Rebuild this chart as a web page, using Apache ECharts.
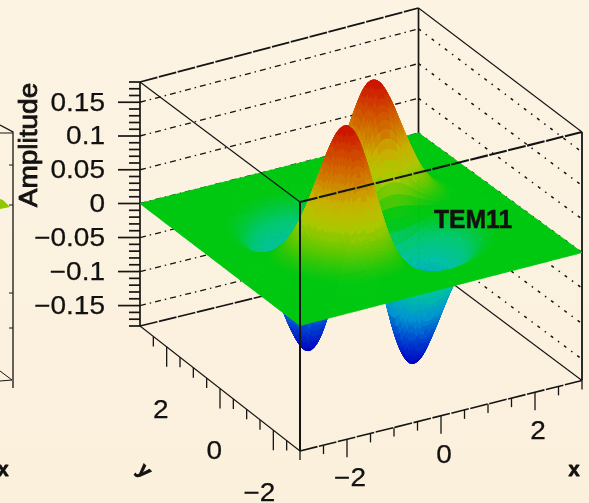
<!DOCTYPE html>
<html>
<head>
<meta charset="utf-8">
<script src="https://cdn.jsdelivr.net/npm/echarts@6/dist/echarts.min.js"></script>
<style>
html,body{margin:0;padding:0;background:#fbf1de;}
#c{width:589px;height:503px;filter:blur(0.55px);}
</style>
</head>
<body>
<div id="c"></div>
<script>
// Amplitude, in thousandths; rows run y = -3 .. 3, columns x = -3 .. 3, step 0.2
const xValues = [-3,-2.8,-2.6,-2.4,-2.2,-2,-1.8,-1.6,-1.4,-1.2,-1,-0.8,-0.6,-0.4,-0.2,0,0.2,0.4,0.6,0.8,1,1.2,1.4,1.6,1.8,2,2.2,2.4,2.6,2.8,3];
const yValues = xValues.slice();
const amplitudeMilli = [
[0,0,0,0,0,0,0,0,0,0,0,0,0,0,0,0,0,0,0,0,0,0,0,0,0,0,0,0,0,0,0],
[0,0,0,0,0,0,0,0,0,0,0,0,0,0,0,0,0,0,0,0,0,0,0,0,0,0,0,0,0,0,0],
[0,0,0,0,0,0,0,0,1,1,1,1,1,1,1,0,-1,-1,-1,-1,-1,-1,-1,0,0,0,0,0,0,0,0],
[0,0,0,0,0,0,0,1,1,2,3,3,3,3,1,0,-1,-3,-3,-3,-3,-2,-1,-1,0,0,0,0,0,0,0],
[0,0,0,0,0,1,1,2,3,5,6,7,7,6,3,0,-3,-6,-7,-7,-6,-5,-3,-2,-1,-1,0,0,0,0,0],
[0,0,0,0,1,1,3,5,7,10,13,15,15,12,7,0,-7,-12,-15,-15,-13,-10,-7,-5,-3,-1,-1,0,0,0,0],
[0,0,0,0,1,3,5,9,14,20,26,30,30,24,14,0,-14,-24,-30,-30,-26,-20,-14,-9,-5,-3,-1,0,0,0,0],
[0,0,0,1,2,5,9,15,24,35,46,52,52,42,24,0,-24,-42,-52,-52,-46,-35,-24,-15,-9,-5,-2,-1,0,0,0],
[0,0,1,1,3,7,14,24,39,56,73,83,83,67,38,0,-38,-67,-83,-83,-73,-56,-39,-24,-14,-7,-3,-1,-1,0,0],
[0,0,1,2,5,10,20,35,56,81,105,120,119,97,55,0,-55,-97,-119,-120,-105,-81,-56,-35,-20,-10,-5,-2,-1,0,0],
[0,0,1,3,6,13,26,46,73,105,135,155,154,125,71,0,-71,-125,-154,-155,-135,-105,-73,-46,-26,-13,-6,-3,-1,0,0],
[0,0,1,3,7,15,30,52,83,120,155,178,177,144,81,0,-81,-144,-177,-178,-155,-120,-83,-52,-30,-15,-7,-3,-1,0,0],
[0,0,1,3,7,15,30,52,83,119,154,177,175,143,80,0,-80,-143,-175,-177,-154,-119,-83,-52,-30,-15,-7,-3,-1,0,0],
[0,0,1,3,6,12,24,42,67,97,125,144,143,116,66,0,-66,-116,-143,-144,-125,-97,-67,-42,-24,-12,-6,-3,-1,0,0],
[0,0,1,1,3,7,14,24,38,55,71,81,80,66,37,0,-37,-66,-80,-81,-71,-55,-38,-24,-14,-7,-3,-1,-1,0,0],
[0,0,0,0,0,0,0,0,0,0,0,0,0,0,0,0,0,0,0,0,0,0,0,0,0,0,0,0,0,0,0],
[0,0,-1,-1,-3,-7,-14,-24,-38,-55,-71,-81,-80,-66,-37,0,37,66,80,81,71,55,38,24,14,7,3,1,1,0,0],
[0,0,-1,-3,-6,-12,-24,-42,-67,-97,-125,-144,-143,-116,-66,0,66,116,143,144,125,97,67,42,24,12,6,3,1,0,0],
[0,0,-1,-3,-7,-15,-30,-52,-83,-119,-154,-177,-175,-143,-80,0,80,143,175,177,154,119,83,52,30,15,7,3,1,0,0],
[0,0,-1,-3,-7,-15,-30,-52,-83,-120,-155,-178,-177,-144,-81,0,81,144,177,178,155,120,83,52,30,15,7,3,1,0,0],
[0,0,-1,-3,-6,-13,-26,-46,-73,-105,-135,-155,-154,-125,-71,0,71,125,154,155,135,105,73,46,26,13,6,3,1,0,0],
[0,0,-1,-2,-5,-10,-20,-35,-56,-81,-105,-120,-119,-97,-55,0,55,97,119,120,105,81,56,35,20,10,5,2,1,0,0],
[0,0,-1,-1,-3,-7,-14,-24,-39,-56,-73,-83,-83,-67,-38,0,38,67,83,83,73,56,39,24,14,7,3,1,1,0,0],
[0,0,0,-1,-2,-5,-9,-15,-24,-35,-46,-52,-52,-42,-24,0,24,42,52,52,46,35,24,15,9,5,2,1,0,0,0],
[0,0,0,0,-1,-3,-5,-9,-14,-20,-26,-30,-30,-24,-14,0,14,24,30,30,26,20,14,9,5,3,1,0,0,0,0],
[0,0,0,0,-1,-1,-3,-5,-7,-10,-13,-15,-15,-12,-7,0,7,12,15,15,13,10,7,5,3,1,1,0,0,0,0],
[0,0,0,0,0,-1,-1,-2,-3,-5,-6,-7,-7,-6,-3,0,3,6,7,7,6,5,3,2,1,1,0,0,0,0,0],
[0,0,0,0,0,0,0,-1,-1,-2,-3,-3,-3,-3,-1,0,1,3,3,3,3,2,1,1,0,0,0,0,0,0,0],
[0,0,0,0,0,0,0,0,-1,-1,-1,-1,-1,-1,-1,0,1,1,1,1,1,1,1,0,0,0,0,0,0,0,0],
[0,0,0,0,0,0,0,0,0,0,0,0,0,0,0,0,0,0,0,0,0,0,0,0,0,0,0,0,0,0,0],
[0,0,0,0,0,0,0,0,0,0,0,0,0,0,0,0,0,0,0,0,0,0,0,0,0,0,0,0,0,0,0]
];
const zTickValues = [-0.15,-0.1,-0.05,0,0.05,0.1,0.15];
const zTickLabels = ['\u22120.15','\u22120.1','\u22120.05','0','0.05','0.1','0.15'];
const xTickValues = [-2,0,2];
const xTickLabels = ['\u22122','0','2'];
const yTickValues = [-2,0,2];
const yTickLabels = ['\u22122','0','2'];
const axisTitleZ = 'Amplitude';
const axisTitleX = 'x';
const axisTitleY = 'y';
const plotTitle = 'TEM11';

// Box of the 3D scale: screen position of each vertical edge at z = 0, and its reach up/down
const X_RANGE = 3, Y_RANGE = 3, Z_RANGE = 0.18;
const corners = {
  F:{u:300,v:325.5,up:123.5,down:125.5},
  R:{u:582,v:252.5,up:120.5,down:128},
  L:{u:140,v:203.5,up:121.5,down:122.5},
  B:{u:418.5,v:133,up:125,down:125}
};
function project(x,y,z){
  const s=(x+X_RANGE)/(2*X_RANGE), t=(y+Y_RANGE)/(2*Y_RANGE);
  const w={F:(1-s)*(1-t),R:s*(1-t),L:(1-s)*t,B:s*t};
  let u=0,v=0;
  for(const k in w){
    const c=corners[k];
    const reach=z>=0?c.up:c.down;
    u+=w[k]*c.u;
    v+=w[k]*(c.v-z/Z_RANGE*reach);
  }
  return [u,v];
}

// Palette: smooth near the plane, stepped towards the extremes
const colorStops=[[-184,[0,0,192]],[-140,[0,64,208]],[-100,[0,150,208]],[-62,[0,192,165]],[-30,[0,200,110]],[-5,[0,200,16]],[5,[0,200,16]],[32,[96,200,0]],[62,[176,200,0]],[90,[200,176,0]],[120,[208,120,0]],[150,[208,72,0]],[184,[204,16,0]]];
function colorOf(m){
  const step=10, q=Math.abs(m)>45?Math.round(m/step)*step:m;
  for(let i=1;i<colorStops.length;i++){
    if(q<=colorStops[i][0]||i===colorStops.length-1){
      const a=colorStops[i-1],b=colorStops[i];
      const f=Math.max(0,Math.min(1,(q-a[0])/(b[0]-a[0])));
      return 'rgb('+a[1].map((c,k)=>Math.round(c+(b[1][k]-c)*f)).join(',')+')';
    }
  }
}

// Smooth shading of the read grid: the surface is painted finer than its data step
const SUB=5, N=xValues.length;
function cr(p0,p1,p2,p3,f){return 0.5*(2*p1+(p2-p0)*f+(2*p0-5*p1+4*p2-p3)*f*f+(3*p1-p0-3*p2+p3)*f*f*f);}
function sample(ix,iy,fx,fy){
  const col=[];
  for(let r=-1;r<=2;r++){
    const row=amplitudeMilli[Math.max(0,Math.min(N-1,iy+r))];
    const g=c=>row[Math.max(0,Math.min(N-1,ix+c))];
    col.push(cr(g(-1),g(0),g(1),g(2),fx));
  }
  return cr(col[0],col[1],col[2],col[3],fy);
}
const cells=[];
for(let iy=N-2;iy>=0;iy--)for(let ix=N-2;ix>=0;ix--)cells.push([ix,iy]);

function renderCell(params,api){
  const ix=api.value(0), iy=api.value(1), children=[];
  const step=(xValues[1]-xValues[0])/SUB;
  for(let b=SUB-1;b>=0;b--)for(let a=SUB-1;a>=0;a--){
    const m=[[a,b],[a+1,b],[a+1,b+1],[a,b+1]].map(p=>sample(ix,iy,p[0]/SUB,p[1]/SUB));
    const xs=xValues[ix]+a*step, ys=yValues[iy]+b*step;
    const pts=[[xs,ys,m[0]],[xs+step,ys,m[1]],[xs+step,ys+step,m[2]],[xs,ys+step,m[3]]]
      .map(p=>api.coord(project(p[0],p[1],p[2]/1000)));
    const fill=colorOf((m[0]+m[1]+m[2]+m[3])/4);
    children.push({type:'polygon',shape:{points:pts},style:{fill:fill,stroke:fill,lineWidth:0.8}});
  }
  return {type:'group',children:children};
}

// Frame
const INK='#141414';
const GRID_DASH=[6,4,1.5,4], EDGE_DASH=[18,1.5];
const wallZ=[-0.15,-0.1,-0.05,0,0.05,0.1,0.15];
const backSegs=[], frontSegs=[];
function seg(list,a,b,w,dash){list.push({a:a,b:b,w:w,dash:dash});}
const P=(x,y,z)=>project(x,y,z);
// back walls
wallZ.forEach(z=>{
  seg(backSegs,P(-3,3,z),P(3,3,z),1.3,GRID_DASH);
  seg(backSegs,P(3,3,z),P(3,-3,z),1.5,[3,6,1.5,6]);
});
seg(backSegs,P(-3,3,Z_RANGE),P(3,3,Z_RANGE),1.8,EDGE_DASH);
seg(backSegs,P(3,3,Z_RANGE),P(3,-3,Z_RANGE),1.1,null);
seg(backSegs,P(-3,3,-Z_RANGE),P(3,3,-Z_RANGE),1.6,EDGE_DASH);
seg(backSegs,P(3,3,-Z_RANGE),P(3,-3,-Z_RANGE),1.1,null);
seg(backSegs,P(3,3,-Z_RANGE),P(3,3,Z_RANGE),1.7,null);
seg(backSegs,P(-3,3,-Z_RANGE),P(-3,3,Z_RANGE),1.7,null);
seg(backSegs,P(3,-3,-Z_RANGE),P(3,-3,Z_RANGE),1.8,null);
// bottom front edges and axis ticks
seg(backSegs,P(-3,3,-Z_RANGE),P(-3,-3,-Z_RANGE),1.1,null);
seg(backSegs,P(-3,-3,-Z_RANGE),P(3,-3,-Z_RANGE),1.6,EDGE_DASH);
for(let i=-18;i<=18;i++){
  const z=i/100, p=P(-3,3,z), major=i%5===0;
  seg(backSegs,[p[0]-(major?22:11),p[1]],p,1.7,null);
}
for(let i=-6;i<=6;i++){
  const p=P(i/2,-3,-Z_RANGE), major=i===-4||i===0||i===4;
  seg(backSegs,p,[p[0],p[1]+(major?18:9)],1.3,null);
}
for(let i=-5;i<=5;i++){
  const p=P(-3,i/2,-Z_RANGE), major=i===-4||i===0||i===4;
  seg(backSegs,p,[p[0],p[1]+(major?20:10)],1.3,null);
}
// front top edges, over the surface
seg(frontSegs,P(-3,-3,Z_RANGE),P(3,-3,Z_RANGE),2.1,EDGE_DASH);
seg(frontSegs,P(-3,-3,Z_RANGE),P(-3,3,Z_RANGE),1.2,null);
seg(frontSegs,P(-3,-3,-Z_RANGE),P(-3,-3,Z_RANGE),2,null);

function renderSeg(list){
  return function(params,api){
    const s=list[api.value(0)];
    const a=api.coord(s.a), b=api.coord(s.b);
    return {type:'line',shape:{x1:a[0],y1:a[1],x2:b[0],y2:b[1]},
      style:{stroke:INK,lineWidth:s.w,lineDash:s.dash||null,fill:null}};
  };
}

// Text
const FONT='"Liberation Sans",Arial,sans-serif';
const texts=[];
function txt(text,pos,size,opt){texts.push(Object.assign({text:text,pos:pos,size:size,align:'center',scaleX:1,rot:0,weight:'normal',bold:0.25},opt||{}));}
zTickValues.forEach((z,i)=>{const p=P(-3,3,z);txt(zTickLabels[i],[105,p[1]+1.5],25,{align:'right',scaleX:1.12});});
xTickValues.forEach((x,i)=>{const p=P(x,-3,-Z_RANGE);txt(xTickLabels[i],[p[0]+3,p[1]+40],25,{scaleX:1.12});});
yTickValues.forEach((y,i)=>{const p=P(-3,y,-Z_RANGE);txt(yTickLabels[i],[p[0]+2,p[1]+64],25,{align:'right',scaleX:1.12});});
txt(axisTitleZ,[30,145],25,{rot:Math.PI/2,scaleX:1.12,bold:0.8});
txt(axisTitleX,[574,470],20,{weight:'bold',bold:0.8});
txt(axisTitleY,[144,471],20,{weight:'bold',rot:-Math.PI/4,bold:0.8});
txt(plotTitle,[473,221],26,{weight:'bold',scaleX:0.95,bold:0.5});
txt(axisTitleX,[3,470],20,{weight:'bold',bold:0.8});

function renderText(params,api){
  const t=texts[api.value(0)], p=api.coord(t.pos);
  return {type:'text',x:p[0],y:p[1],rotation:t.rot,scaleX:t.scaleX,
    style:{text:t.text,x:0,y:0,textAlign:t.align,textVerticalAlign:'middle',fill:'#111',
      stroke:'#111',lineWidth:t.bold,font:t.weight+' '+t.size+'px '+FONT}};
}
const idx=a=>a.map((_,i)=>[i,0]);
function custom(name,data,render,z){
  return {type:'custom',name:name,data:data,renderItem:render,z:z,clip:false,silent:true,progressive:0,animation:false,encode:{x:0,y:1}};
}

const chart=echarts.init(document.getElementById('c'),null,{renderer:'canvas'});
chart.setOption({
  animation:false,
  backgroundColor:{type:'linear',x:0,y:0,x2:0,y2:1,colorStops:[{offset:0,color:'#fcf3e3'},{offset:1,color:'#fbf0dc'}]},
  grid:{left:0,right:0,top:0,bottom:0},
  xAxis:{type:'value',min:0,max:589,show:false},
  yAxis:{type:'value',min:0,max:503,inverse:true,show:false},
  graphic:[
    {type:'polyline',z:1,shape:{points:[[0,125],[13,132],[13,388]]},style:{stroke:INK,lineWidth:1.3,fill:null}},
    {type:'line',z:1,shape:{x1:0,y1:133,x2:13,y2:133},style:{stroke:INK,lineWidth:1}},
    {type:'polyline',z:1,shape:{points:[[0,371],[12,380],[0,381]]},style:{stroke:INK,lineWidth:1,fill:null}},
    {type:'line',z:1,shape:{x1:9,y1:165,x2:13,y2:165},style:{stroke:INK,lineWidth:1}},
    {type:'line',z:1,shape:{x1:9,y1:205,x2:13,y2:205},style:{stroke:INK,lineWidth:1}},
    {type:'line',z:1,shape:{x1:9,y1:293,x2:13,y2:293},style:{stroke:INK,lineWidth:1}},
    {type:'line',z:1,shape:{x1:9,y1:328,x2:13,y2:328},style:{stroke:INK,lineWidth:1}},
    {type:'polygon',z:1,shape:{points:[[0,199],[3,200],[10,207],[0,209]]},style:{fill:'#90c800'}}
  ],
  series:[
    custom('frame-back',idx(backSegs),renderSeg(backSegs),2),
    custom('surface',cells,renderCell,3),
    custom('frame-front',idx(frontSegs),renderSeg(frontSegs),4),
    custom('text',idx(texts),renderText,5)
  ]
});
</script>
</body>
</html>
